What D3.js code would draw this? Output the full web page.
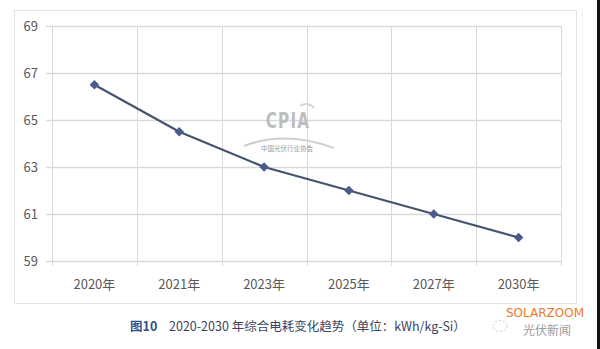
<!DOCTYPE html>
<html><head><meta charset="utf-8">
<script src="https://cdn.jsdelivr.net/npm/d3@7"></script>
<style>body{margin:0;background:#fff;}svg{display:block;}</style>
</head><body>
<svg id="c" width="600" height="349"></svg>
<script>
const categories = ["2020年","2021年","2023年","2025年","2027年","2030年"];
const values = [66.5, 64.5, 63, 62, 61, 60];
const yTicks = [59, 61, 63, 65, 67, 69];
const captionLabel = "图10";
const captionText = "2020-2030 年综合电耗变化趋势（单位：kWh/kg-Si）";

const svg = d3.select("#c");
const font = "'Noto Sans CJK SC','Microsoft YaHei',sans-serif";

// outer frame
svg.append("rect").attr("x",14.5).attr("y",10.5).attr("width",562).attr("height",293)
  .attr("fill","#fff").attr("stroke","#e4e4e4").attr("stroke-width",1);
svg.append("line").attr("x1",582.5).attr("x2",582.5).attr("y1",8).attr("y2",305).attr("stroke","#f0f0f0");
svg.append("rect").attr("x",597).attr("y",0).attr("width",3).attr("height",349).attr("fill","#111");

const x = d3.scaleBand().domain(categories).range([52,561]);
const y = d3.scaleLinear().domain([59,69]).range([261,26]);

const g = svg.append("g");
g.selectAll(".hg").data(yTicks).enter().append("line")
  .attr("x1",46).attr("x2",561).attr("y1",d=>Math.round(y(d))+0.5).attr("y2",d=>Math.round(y(d))+0.5)
  .attr("stroke","#d9d9d9").attr("stroke-width",1.3);
const vx = categories.map(c=>x(c)).concat([x.range()[1]]);
g.selectAll(".vg").data(vx).enter().append("line")
  .attr("x1",d=>Math.round(d)+0.5).attr("x2",d=>Math.round(d)+0.5).attr("y1",26).attr("y2",266)
  .attr("stroke","#d9d9d9").attr("stroke-width",1);

g.selectAll(".yl").data(yTicks).enter().append("text")
  .attr("x",38).attr("y",d=>y(d)).attr("dy","0.36em").attr("text-anchor","end")
  .attr("font-family",font).attr("font-size",13).attr("fill","#595959").text(d=>d);
g.selectAll(".xl").data(categories).enter().append("text")
  .attr("x",d=>x(d)+x.bandwidth()/2).attr("y",284).attr("dy","0.36em").attr("text-anchor","middle")
  .attr("font-family",font).attr("font-size",13).attr("fill","#595959").text(d=>d);

// watermark
const wm = svg.append("g");
wm.append("text").attr("transform","translate(288,128) scale(0.8,1.1)").attr("text-anchor","middle")
  .attr("font-family","'DejaVu Sans',sans-serif").attr("font-weight","bold")
  .attr("font-size",19).attr("fill","#bdbdbd").attr("letter-spacing",1.5).text("CPIA");
wm.append("path").attr("d","M244,146 Q285,130 334,148").attr("fill","none").attr("stroke","#cfcfcf").attr("stroke-width",2);
wm.append("text").attr("x",287).attr("y",151).attr("text-anchor","middle")
  .attr("font-family",font).attr("font-size",6.5).attr("fill","#9a9a9a").text("中国光伏行业协会");
wm.append("path").attr("d","M300,106 Q308,101 314,108").attr("fill","none").attr("stroke","#d5d5d5").attr("stroke-width",2);

// line
const cx = (i)=>x(categories[i])+x.bandwidth()/2;
const line = d3.line().x((d,i)=>cx(i)).y(d=>y(d));
svg.append("path").datum(values).attr("d",line).attr("fill","none")
  .attr("stroke","#44546e").attr("stroke-width",2.2);
svg.selectAll(".pt").data(values).enter().append("path")
  .attr("d",d3.symbol().type(d3.symbolSquare).size(46))
  .attr("transform",(d,i)=>`translate(${cx(i)},${y(d)}) rotate(45)`)
  .attr("fill","#4a5b8c");

// caption
svg.append("text").attr("x",130).attr("y",331).attr("font-family",font).attr("font-size",12.5)
  .attr("fill","#2f4e8c").attr("font-weight","bold").text(captionLabel);
svg.append("text").attr("x",169).attr("y",331).attr("font-family",font).attr("font-size",12.5)
  .attr("fill","#3b4560").text(captionText);

// logo
svg.append("text").attr("x",506).attr("y",317).attr("font-family","'DejaVu Sans',sans-serif").attr("font-size",12).attr("fill","#ee7a1c").text("SOLARZOOM");
svg.append("text").attr("x",523).attr("y",335).attr("font-family",font).attr("font-size",12).attr("fill","#9a9a9a").text("光伏新闻");
svg.append("ellipse").attr("cx",500).attr("cy",326).attr("rx",7).attr("ry",5.5).attr("fill","none").attr("stroke","#c8c8c8").attr("stroke-dasharray","2,2");
</script>
</body></html>
